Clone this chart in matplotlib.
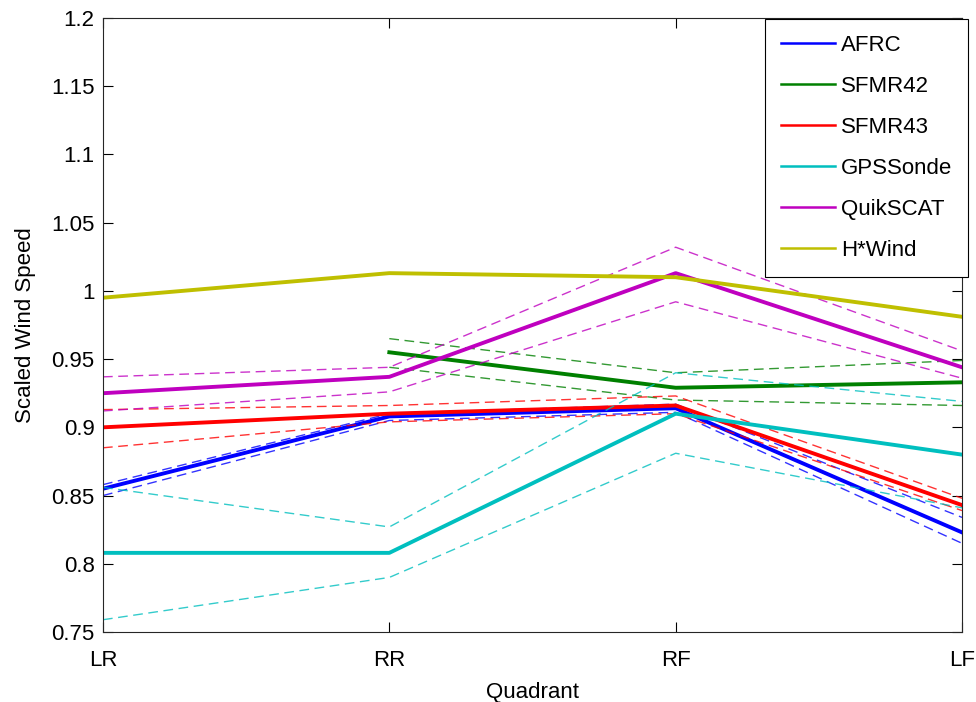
import matplotlib
matplotlib.use("Agg")
import matplotlib.pyplot as plt
from matplotlib.lines import Line2D
import numpy as np

plt.rcParams['font.family'] = ['Liberation Sans', 'DejaVu Sans']

quadrants = ['LR', 'RR', 'RF', 'LF']
x = np.arange(1, 5)

# scaled wind speed per quadrant: mean, upper and lower bound (nan = no data)
afrc = [0.855, 0.908, 0.914, 0.823]
afrc_hi = [0.858, 0.910, 0.917, 0.834]
afrc_lo = [0.850, 0.905, 0.911, 0.815]

sfmr42 = [np.nan, 0.955, 0.929, 0.933]
sfmr42_hi = [np.nan, 0.965, 0.940, 0.949]
sfmr42_lo = [np.nan, 0.944, 0.920, 0.916]

sfmr43 = [0.900, 0.910, 0.916, 0.843]
sfmr43_hi = [0.913, 0.916, 0.923, 0.848]
sfmr43_lo = [0.885, 0.904, 0.910, 0.839]

gpssonde = [0.808, 0.808, 0.910, 0.880]
gpssonde_hi = [0.856, 0.827, 0.940, 0.919]
gpssonde_lo = [0.759, 0.790, 0.881, 0.841]

quikscat = [0.925, 0.937, 1.013, 0.944]
quikscat_hi = [0.937, 0.944, 1.032, 0.956]
quikscat_lo = [0.912, 0.926, 0.992, 0.936]

hwind = [0.995, 1.013, 1.010, 0.981]

names = ['AFRC', 'SFMR42', 'SFMR43', 'GPSSonde', 'QuikSCAT', 'H*Wind']
colors = [(0, 0, 1), (0, 0.5, 0), (1, 0, 0), (0, 0.75, 0.75), (0.75, 0, 0.75), (0.75, 0.75, 0)]
means = [afrc, sfmr42, sfmr43, gpssonde, quikscat, hwind]
uppers = [afrc_hi, sfmr42_hi, sfmr43_hi, gpssonde_hi, quikscat_hi, None]
lowers = [afrc_lo, sfmr42_lo, sfmr43_lo, gpssonde_lo, quikscat_lo, None]

FS = 16

fig = plt.figure(figsize=(9.76, 7.02), dpi=100)
ax = fig.add_axes([0.1055, 0.0997, 0.8802, 0.8747])

for m, hi, lo, c in zip(means, uppers, lowers, colors):
    if hi is not None:
        ax.plot(x, hi, '--', color=c, lw=1.0, dashes=(7, 4), alpha=0.8)
        ax.plot(x, lo, '--', color=c, lw=1.0, dashes=(7, 4), alpha=0.8)
    ax.plot(x, m, '-', color=c, lw=2.8)

ax.set_xlim(1, 4)
ax.set_ylim(0.75, 1.2)
ax.set_xticks(x)
ax.set_xticklabels(quadrants)
ax.set_yticks(np.arange(0.75, 1.2001, 0.05))
ax.set_yticklabels(['0.75', '0.8', '0.85', '0.9', '0.95', '1', '1.05', '1.1', '1.15', '1.2'])
ax.tick_params(direction='in', top=True, right=True, length=7, labelsize=FS, width=0.8)
ax.tick_params(axis='x', pad=13)
ax.tick_params(axis='y', pad=6)
for s in ax.spines.values():
    s.set_linewidth(0.8)
    s.set_color('#262626')
ax.set_xlabel('Quadrant', fontsize=FS, labelpad=8)
ax.set_ylabel('Scaled Wind Speed', fontsize=FS, labelpad=11)

handles = [Line2D([], [], color=c, lw=1.8) for c in colors]
leg = ax.legend(handles, names, loc='upper right', bbox_to_anchor=(1.007, 0.998),
                fontsize=FS, handlelength=2.45, handletextpad=0.25, labelspacing=0.9,
                borderpad=0.72, borderaxespad=0, fancybox=False, framealpha=1)
leg.get_frame().set_edgecolor('black')
leg.get_frame().set_linewidth(0.8)

fig.savefig('out.png', dpi=100)
